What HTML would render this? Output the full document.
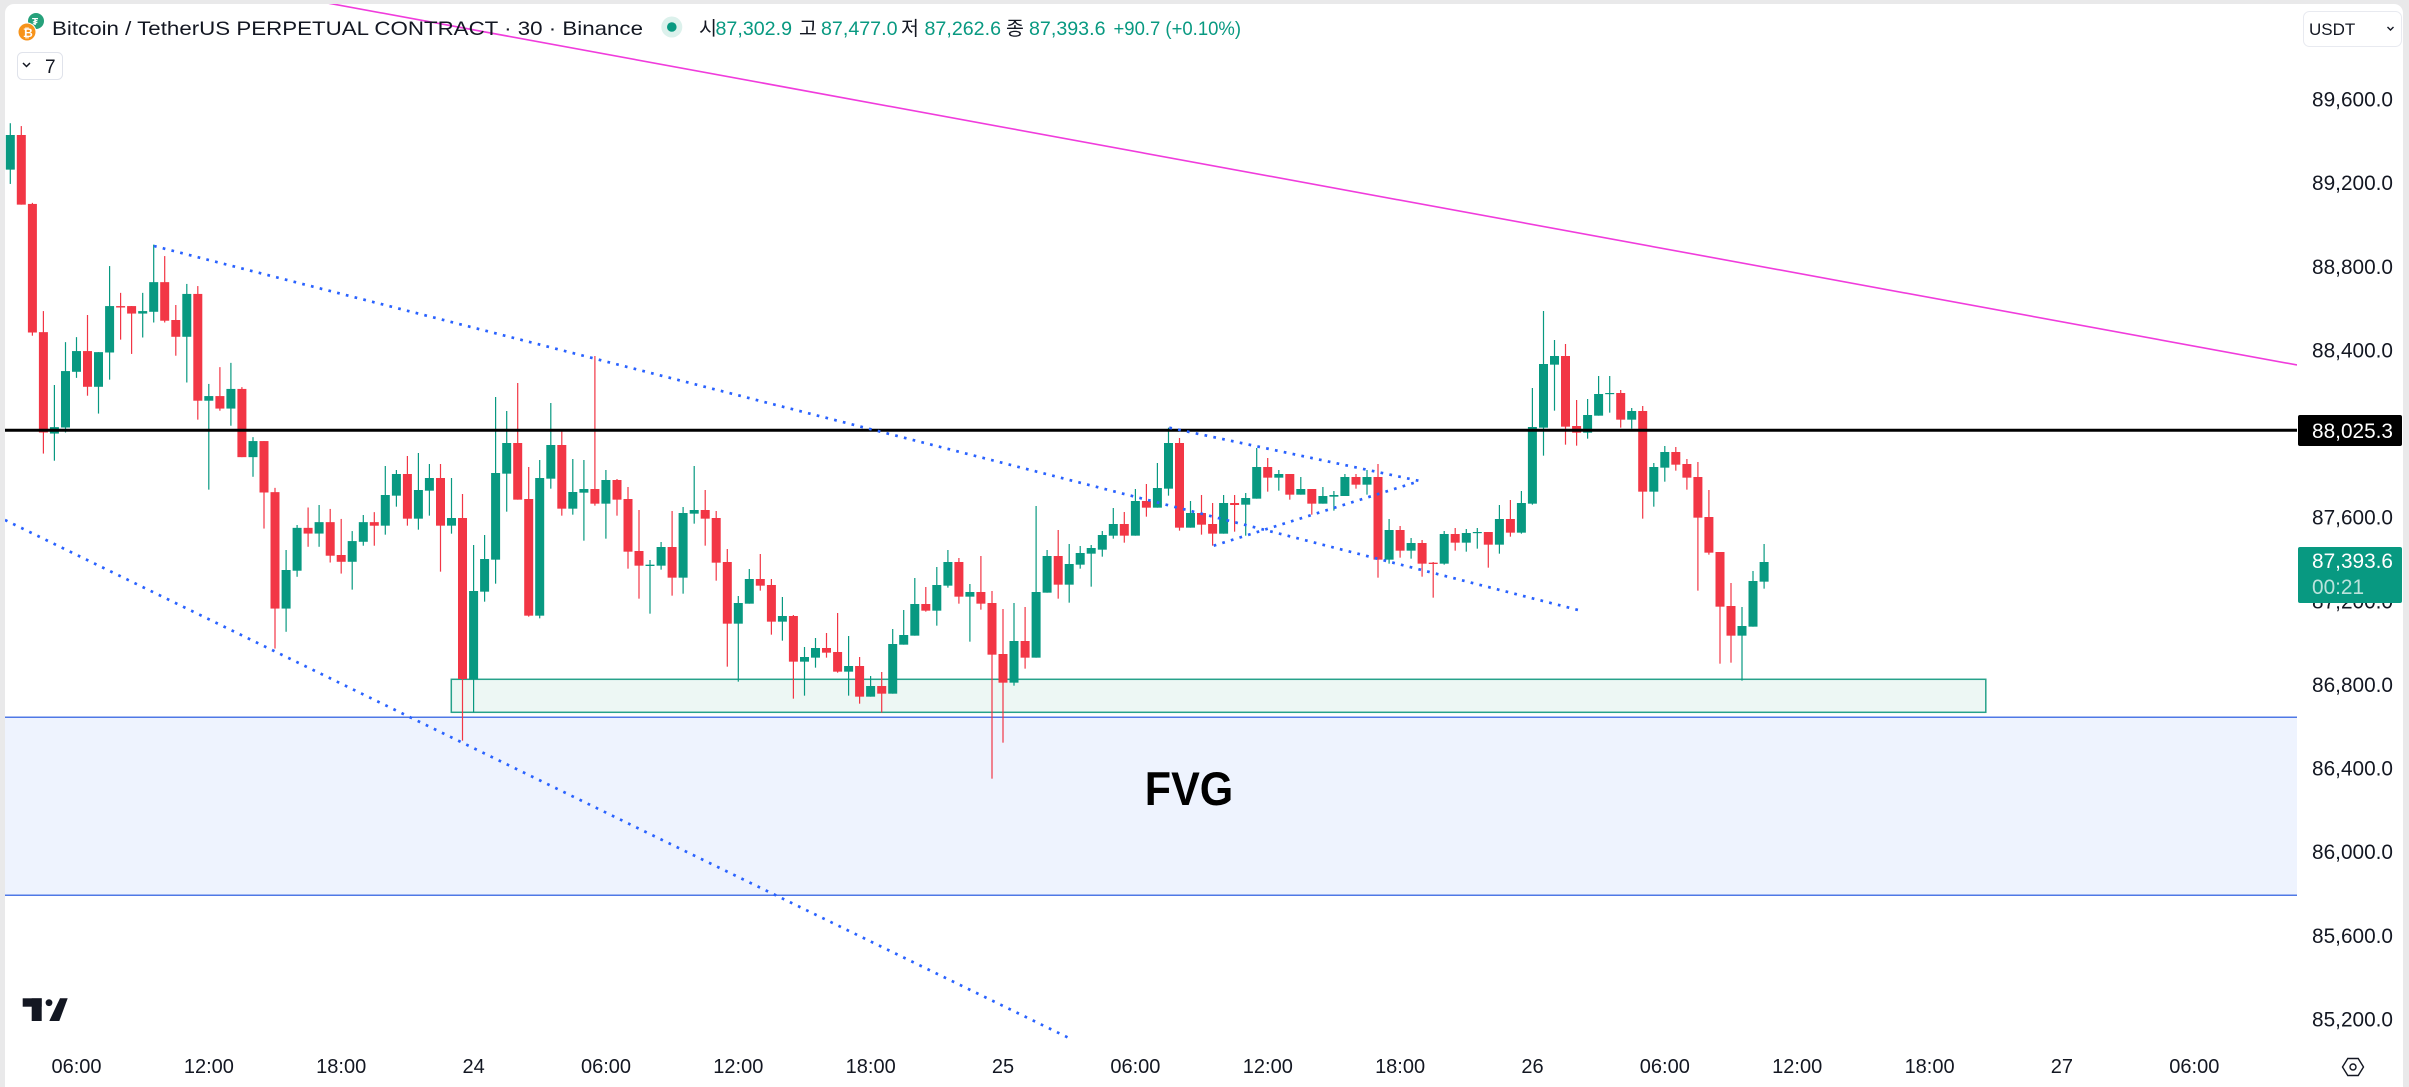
<!DOCTYPE html>
<html><head><meta charset="utf-8">
<style>
html,body{margin:0;padding:0;background:#e9e9ea;}
svg{display:block;}
text{font-family:"Liberation Sans","Noto Sans CJK KR",sans-serif;}
</style></head>
<body>
<svg width="2409" height="1087" viewBox="0 0 2409 1087" xmlns="http://www.w3.org/2000/svg">
<defs>
<clipPath id="pane"><rect x="5" y="4" width="2292" height="1041"/></clipPath>
</defs>
<rect x="0" y="0" width="2409" height="1087" fill="#e9e9ea"/>
<rect x="5" y="4" width="2398" height="1095" rx="9" fill="#ffffff"/>

<g clip-path="url(#pane)">
<!-- FVG zone -->
<rect x="5" y="717.3" width="2292" height="178" fill="#eef3fe"/>
<line x1="5" y1="717.3" x2="2297" y2="717.3" stroke="#4f78e6" stroke-width="1.5"/>
<line x1="5" y1="895.3" x2="2297" y2="895.3" stroke="#4f78e6" stroke-width="1.5"/>
<!-- green demand box -->
<rect x="451.3" y="679.3" width="1534.5" height="33" fill="#edf7f4" stroke="#26a28a" stroke-width="1.5"/>

<!-- candles zoom4 -->
<g transform="translate(0,110) scale(1,0.357143)">
<g fill="#089981">
<rect x="9.7" y="37" width="1.2" height="170"/><rect x="5.8" y="70" width="9" height="97"/>
<rect x="53.8" y="770" width="1.2" height="212"/><rect x="49.9" y="888" width="9" height="18"/>
<rect x="64.9" y="650" width="1.2" height="253"/><rect x="61.0" y="731" width="9" height="158"/>
<rect x="75.9" y="636" width="1.2" height="114"/><rect x="72.0" y="675" width="9" height="58"/>
<rect x="97.9" y="678" width="1.2" height="172"/><rect x="94.0" y="678" width="9" height="97"/>
<rect x="109.0" y="437" width="1.2" height="318"/><rect x="105.1" y="549" width="9" height="130"/>
<rect x="142.1" y="512" width="1.2" height="125"/><rect x="138.2" y="563" width="9" height="7"/>
<rect x="153.1" y="377" width="1.2" height="218"/><rect x="149.2" y="482" width="9" height="83"/>
<rect x="186.2" y="487" width="1.2" height="276"/><rect x="182.3" y="515" width="9" height="120"/>
<rect x="208.2" y="767" width="1.2" height="296"/><rect x="204.3" y="801" width="9" height="13"/>
<rect x="230.3" y="708" width="1.2" height="176"/><rect x="226.4" y="781" width="9" height="55"/>
<rect x="252.4" y="916" width="1.2" height="111"/><rect x="248.5" y="927" width="9" height="45"/>
<rect x="285.5" y="1232" width="1.2" height="229"/><rect x="281.6" y="1288" width="9" height="108"/>
<rect x="296.5" y="1162" width="1.2" height="145"/><rect x="292.6" y="1170" width="9" height="120"/>
<rect x="318.5" y="1106" width="1.2" height="117"/><rect x="314.6" y="1154" width="9" height="32"/>
<rect x="351.6" y="1179" width="1.2" height="164"/><rect x="347.7" y="1207" width="9" height="58"/>
<rect x="362.7" y="1134" width="1.2" height="86"/><rect x="358.8" y="1154" width="9" height="55"/>
</g>
<g fill="#f23645">
<rect x="20.7" y="45" width="1.2" height="220"/><rect x="16.8" y="70" width="9" height="195"/>
<rect x="31.8" y="260" width="1.2" height="372"/><rect x="27.9" y="263" width="9" height="360"/>
<rect x="42.8" y="563" width="1.2" height="399"/><rect x="38.9" y="622" width="9" height="281"/>
<rect x="86.9" y="574" width="1.2" height="226"/><rect x="83.0" y="675" width="9" height="100"/>
<rect x="120.0" y="512" width="1.2" height="131"/><rect x="116.1" y="549" width="9" height="4"/>
<rect x="131.0" y="549" width="1.2" height="134"/><rect x="127.1" y="549" width="9" height="21"/>
<rect x="164.1" y="409" width="1.2" height="186"/><rect x="160.2" y="482" width="9" height="108"/>
<rect x="175.2" y="546" width="1.2" height="142"/><rect x="171.3" y="588" width="9" height="47"/>
<rect x="197.2" y="493" width="1.2" height="374"/><rect x="193.3" y="515" width="9" height="299"/>
<rect x="219.3" y="720" width="1.2" height="122"/><rect x="215.4" y="801" width="9" height="35"/>
<rect x="241.3" y="776" width="1.2" height="196"/><rect x="237.4" y="781" width="9" height="191"/>
<rect x="263.4" y="927" width="1.2" height="245"/><rect x="259.5" y="927" width="9" height="144"/>
<rect x="274.4" y="1058" width="1.2" height="450"/><rect x="270.5" y="1070" width="9" height="326"/>
<rect x="307.5" y="1113" width="1.2" height="110"/><rect x="303.6" y="1170" width="9" height="16"/>
<rect x="329.6" y="1117" width="1.2" height="150"/><rect x="325.7" y="1154" width="9" height="94"/>
<rect x="340.6" y="1145" width="1.2" height="153"/><rect x="336.7" y="1246" width="9" height="19"/>
<rect x="373.7" y="1126" width="1.2" height="94"/><rect x="369.8" y="1154" width="9" height="10"/>
</g>
</g>

<!-- candles zoom5 -->
<g transform="translate(0,370) scale(1,0.333333)">
<g fill="#089981">
<rect x="384.7" y="288" width="1.2" height="206"/><rect x="380.8" y="375" width="9" height="92"/>
<rect x="395.8" y="300" width="1.2" height="110"/><rect x="391.9" y="312" width="9" height="65"/>
<rect x="417.8" y="249" width="1.2" height="230"/><rect x="413.9" y="360" width="9" height="86"/>
<rect x="428.8" y="282" width="1.2" height="155"/><rect x="424.9" y="324" width="9" height="38"/>
<rect x="450.9" y="324" width="1.2" height="167"/><rect x="447.0" y="444" width="9" height="23"/>
<rect x="473.0" y="525" width="1.2" height="502"/><rect x="469.1" y="663" width="9" height="264"/>
<rect x="484.0" y="495" width="1.2" height="200"/><rect x="480.1" y="567" width="9" height="98"/>
<rect x="495.0" y="81" width="1.2" height="560"/><rect x="491.1" y="309" width="9" height="260"/>
<rect x="506.1" y="123" width="1.2" height="302"/><rect x="502.2" y="219" width="9" height="92"/>
<rect x="539.1" y="270" width="1.2" height="475"/><rect x="535.2" y="324" width="9" height="413"/>
<rect x="550.2" y="99" width="1.2" height="257"/><rect x="546.3" y="225" width="9" height="101"/>
<rect x="572.2" y="267" width="1.2" height="167"/><rect x="568.3" y="366" width="9" height="50"/>
<rect x="583.3" y="270" width="1.2" height="242"/><rect x="579.4" y="357" width="9" height="11"/>
<rect x="605.3" y="300" width="1.2" height="206"/><rect x="601.4" y="330" width="9" height="71"/>
<rect x="649.4" y="570" width="1.2" height="161"/><rect x="645.5" y="584" width="9" height="4"/>
<rect x="660.5" y="516" width="1.2" height="83"/><rect x="656.6" y="531" width="9" height="56"/>
<rect x="682.5" y="411" width="1.2" height="260"/><rect x="678.6" y="429" width="9" height="194"/>
<rect x="693.6" y="288" width="1.2" height="173"/><rect x="689.7" y="420" width="9" height="11"/>
<rect x="737.7" y="678" width="1.2" height="257"/><rect x="733.8" y="699" width="9" height="62"/>
</g>
<g fill="#f23645">
<rect x="406.8" y="258" width="1.2" height="209"/><rect x="402.9" y="312" width="9" height="134"/>
<rect x="439.9" y="282" width="1.2" height="323"/><rect x="436.0" y="324" width="9" height="143"/>
<rect x="461.9" y="372" width="1.2" height="740"/><rect x="458.0" y="444" width="9" height="483"/>
<rect x="517.1" y="39" width="1.2" height="350"/><rect x="513.2" y="219" width="9" height="170"/>
<rect x="528.1" y="291" width="1.2" height="449"/><rect x="524.2" y="387" width="9" height="350"/>
<rect x="561.2" y="183" width="1.2" height="254"/><rect x="557.3" y="225" width="9" height="191"/>
<rect x="594.3" y="-42" width="1.2" height="449"/><rect x="590.4" y="357" width="9" height="44"/>
<rect x="616.4" y="327" width="1.2" height="110"/><rect x="612.5" y="330" width="9" height="59"/>
<rect x="627.4" y="351" width="1.2" height="245"/><rect x="623.5" y="387" width="9" height="158"/>
<rect x="638.4" y="420" width="1.2" height="266"/><rect x="634.5" y="543" width="9" height="44"/>
<rect x="671.5" y="423" width="1.2" height="254"/><rect x="667.6" y="531" width="9" height="92"/>
<rect x="704.6" y="360" width="1.2" height="167"/><rect x="700.7" y="420" width="9" height="26"/>
<rect x="715.6" y="423" width="1.2" height="209"/><rect x="711.7" y="444" width="9" height="134"/>
<rect x="726.7" y="537" width="1.2" height="353"/><rect x="722.8" y="576" width="9" height="185"/>
</g>
</g>

<!-- candles zoom6 -->
<g transform="translate(0,330) scale(1,0.333333)">
<g fill="#089981">
<rect x="748.7" y="717" width="1.2" height="104"/><rect x="744.8" y="747" width="9" height="74"/>
<rect x="781.8" y="801" width="1.2" height="131"/><rect x="777.9" y="858" width="9" height="17"/>
<rect x="803.9" y="951" width="1.2" height="146"/><rect x="800.0" y="981" width="9" height="14"/>
<rect x="814.9" y="924" width="1.2" height="89"/><rect x="811.0" y="954" width="9" height="29"/>
<rect x="848.0" y="918" width="1.2" height="179"/><rect x="844.1" y="1008" width="9" height="17"/>
<rect x="870.0" y="1038" width="1.2" height="62"/><rect x="866.1" y="1068" width="9" height="32"/>
<rect x="892.1" y="897" width="1.2" height="194"/><rect x="888.2" y="942" width="9" height="149"/>
<rect x="903.1" y="840" width="1.2" height="104"/><rect x="899.2" y="915" width="9" height="29"/>
<rect x="914.2" y="744" width="1.2" height="173"/><rect x="910.3" y="822" width="9" height="95"/>
<rect x="936.2" y="711" width="1.2" height="176"/><rect x="932.3" y="765" width="9" height="77"/>
<rect x="947.3" y="660" width="1.2" height="113"/><rect x="943.4" y="696" width="9" height="71"/>
<rect x="969.3" y="762" width="1.2" height="173"/><rect x="965.4" y="786" width="9" height="14"/>
<rect x="1013.4" y="819" width="1.2" height="248"/><rect x="1009.5" y="933" width="9" height="125"/>
<rect x="1035.5" y="528" width="1.2" height="455"/><rect x="1031.6" y="786" width="9" height="197"/>
<rect x="1046.5" y="660" width="1.2" height="128"/><rect x="1042.6" y="678" width="9" height="110"/>
<rect x="1068.6" y="642" width="1.2" height="176"/><rect x="1064.7" y="702" width="9" height="62"/>
<rect x="1079.6" y="648" width="1.2" height="68"/><rect x="1075.7" y="669" width="9" height="35"/>
<rect x="1090.6" y="645" width="1.2" height="125"/><rect x="1086.7" y="654" width="9" height="17"/>
<rect x="1101.7" y="603" width="1.2" height="77"/><rect x="1097.8" y="615" width="9" height="44"/>
<rect x="1112.7" y="534" width="1.2" height="92"/><rect x="1108.8" y="582" width="9" height="35"/>
</g>
<g fill="#f23645">
<rect x="759.7" y="672" width="1.2" height="110"/><rect x="755.8" y="747" width="9" height="20"/>
<rect x="770.8" y="747" width="1.2" height="167"/><rect x="766.9" y="765" width="9" height="110"/>
<rect x="792.8" y="855" width="1.2" height="251"/><rect x="788.9" y="858" width="9" height="137"/>
<rect x="825.9" y="909" width="1.2" height="74"/><rect x="822.0" y="954" width="9" height="14"/>
<rect x="837.0" y="849" width="1.2" height="179"/><rect x="833.1" y="966" width="9" height="59"/>
<rect x="859.0" y="981" width="1.2" height="140"/><rect x="855.1" y="1008" width="9" height="92"/>
<rect x="881.1" y="1026" width="1.2" height="122"/><rect x="877.2" y="1068" width="9" height="23"/>
<rect x="925.2" y="771" width="1.2" height="74"/><rect x="921.3" y="822" width="9" height="20"/>
<rect x="958.3" y="684" width="1.2" height="137"/><rect x="954.4" y="696" width="9" height="104"/>
<rect x="980.3" y="678" width="1.2" height="161"/><rect x="976.4" y="786" width="9" height="35"/>
<rect x="991.4" y="783" width="1.2" height="563"/><rect x="987.5" y="819" width="9" height="155"/>
<rect x="1002.4" y="837" width="1.2" height="401"/><rect x="998.5" y="972" width="9" height="86"/>
<rect x="1024.5" y="831" width="1.2" height="185"/><rect x="1020.6" y="933" width="9" height="50"/>
<rect x="1057.6" y="600" width="1.2" height="206"/><rect x="1053.7" y="678" width="9" height="86"/>
</g>
</g>

<!-- candles zoom7 -->
<g transform="translate(0,390) scale(1,0.333333)">
<g fill="#089981">
<rect x="1134.8" y="297" width="1.2" height="140"/><rect x="1130.9" y="333" width="9" height="104"/>
<rect x="1156.8" y="219" width="1.2" height="134"/><rect x="1152.9" y="294" width="9" height="59"/>
<rect x="1167.9" y="113" width="1.2" height="204"/><rect x="1164.0" y="159" width="9" height="137"/>
<rect x="1189.9" y="333" width="1.2" height="80"/><rect x="1186.0" y="369" width="9" height="44"/>
<rect x="1223.0" y="315" width="1.2" height="116"/><rect x="1219.1" y="339" width="9" height="92"/>
<rect x="1245.1" y="309" width="1.2" height="128"/><rect x="1241.2" y="324" width="9" height="20"/>
<rect x="1256.1" y="174" width="1.2" height="152"/><rect x="1252.2" y="231" width="9" height="95"/>
<rect x="1278.2" y="240" width="1.2" height="62"/><rect x="1274.3" y="252" width="9" height="11"/>
<rect x="1300.2" y="261" width="1.2" height="53"/><rect x="1296.3" y="297" width="9" height="17"/>
<rect x="1322.3" y="291" width="1.2" height="50"/><rect x="1318.4" y="318" width="9" height="23"/>
<rect x="1333.3" y="303" width="1.2" height="59"/><rect x="1329.4" y="315" width="9" height="5"/>
<rect x="1344.3" y="252" width="1.2" height="66"/><rect x="1340.4" y="261" width="9" height="57"/>
<rect x="1366.4" y="240" width="1.2" height="74"/><rect x="1362.5" y="261" width="9" height="23"/>
<rect x="1388.5" y="387" width="1.2" height="134"/><rect x="1384.6" y="420" width="9" height="89"/>
<rect x="1410.5" y="444" width="1.2" height="62"/><rect x="1406.6" y="459" width="9" height="23"/>
<rect x="1443.6" y="423" width="1.2" height="101"/><rect x="1439.7" y="432" width="9" height="89"/>
<rect x="1465.7" y="417" width="1.2" height="68"/><rect x="1461.8" y="429" width="9" height="29"/>
<rect x="1476.7" y="414" width="1.2" height="62"/><rect x="1472.8" y="426" width="9" height="3.5"/>
</g>
<g fill="#f23645">
<rect x="1123.7" y="366" width="1.2" height="92"/><rect x="1119.8" y="402" width="9" height="35"/>
<rect x="1145.8" y="282" width="1.2" height="98"/><rect x="1141.9" y="333" width="9" height="20"/>
<rect x="1178.9" y="144" width="1.2" height="278"/><rect x="1175.0" y="159" width="9" height="254"/>
<rect x="1200.9" y="315" width="1.2" height="119"/><rect x="1197.0" y="369" width="9" height="35"/>
<rect x="1212.0" y="339" width="1.2" height="128"/><rect x="1208.1" y="402" width="9" height="29"/>
<rect x="1234.0" y="315" width="1.2" height="110"/><rect x="1230.1" y="339" width="9" height="6"/>
<rect x="1267.1" y="204" width="1.2" height="101"/><rect x="1263.2" y="231" width="9" height="32"/>
<rect x="1289.2" y="252" width="1.2" height="77"/><rect x="1285.3" y="252" width="9" height="62"/>
<rect x="1311.2" y="297" width="1.2" height="77"/><rect x="1307.3" y="297" width="9" height="44"/>
<rect x="1355.4" y="252" width="1.2" height="44"/><rect x="1351.5" y="261" width="9" height="23"/>
<rect x="1377.4" y="222" width="1.2" height="341"/><rect x="1373.5" y="261" width="9" height="248"/>
<rect x="1399.5" y="408" width="1.2" height="95"/><rect x="1395.6" y="420" width="9" height="62"/>
<rect x="1421.5" y="450" width="1.2" height="110"/><rect x="1417.6" y="459" width="9" height="62"/>
<rect x="1432.6" y="516" width="1.2" height="107"/><rect x="1428.7" y="518" width="9" height="4"/>
<rect x="1454.6" y="414" width="1.2" height="68"/><rect x="1450.7" y="432" width="9" height="26"/>
</g>
</g>

<!-- candles zoom8 -->
<g transform="translate(0,290) scale(1,0.333333)">
<g fill="#089981">
<rect x="1498.8" y="645" width="1.2" height="146"/><rect x="1494.9" y="687" width="9" height="77"/>
<rect x="1520.8" y="603" width="1.2" height="128"/><rect x="1516.9" y="639" width="9" height="89"/>
<rect x="1531.8" y="294" width="1.2" height="350"/><rect x="1527.9" y="411" width="9" height="230"/>
<rect x="1542.9" y="63" width="1.2" height="434"/><rect x="1539.0" y="222" width="9" height="191"/>
<rect x="1553.9" y="150" width="1.2" height="212"/><rect x="1550.0" y="198" width="9" height="26"/>
<rect x="1587.0" y="327" width="1.2" height="119"/><rect x="1583.1" y="375" width="9" height="53"/>
<rect x="1598.0" y="258" width="1.2" height="119"/><rect x="1594.1" y="312" width="9" height="65"/>
<rect x="1609.1" y="258" width="1.2" height="110"/><rect x="1605.2" y="309" width="9" height="3.5"/>
<rect x="1631.1" y="354" width="1.2" height="62"/><rect x="1627.2" y="363" width="9" height="26"/>
<rect x="1653.2" y="519" width="1.2" height="131"/><rect x="1649.3" y="531" width="9" height="74"/>
<rect x="1664.2" y="468" width="1.2" height="107"/><rect x="1660.3" y="486" width="9" height="47"/>
<rect x="1741.4" y="951" width="1.2" height="221"/><rect x="1737.5" y="1008" width="9" height="29"/>
<rect x="1752.4" y="843" width="1.2" height="167"/><rect x="1748.5" y="873" width="9" height="137"/>
<rect x="1763.5" y="762" width="1.2" height="134"/><rect x="1759.6" y="816" width="9" height="59"/>
</g>
<g fill="#f23645">
<rect x="1487.7" y="726" width="1.2" height="107"/><rect x="1483.8" y="726" width="9" height="38"/>
<rect x="1509.8" y="630" width="1.2" height="110"/><rect x="1505.9" y="687" width="9" height="41"/>
<rect x="1564.9" y="162" width="1.2" height="302"/><rect x="1561.0" y="198" width="9" height="212"/>
<rect x="1576.0" y="330" width="1.2" height="137"/><rect x="1572.1" y="408" width="9" height="20"/>
<rect x="1620.1" y="300" width="1.2" height="113"/><rect x="1616.2" y="309" width="9" height="80"/>
<rect x="1642.1" y="348" width="1.2" height="338"/><rect x="1638.2" y="363" width="9" height="242"/>
<rect x="1675.2" y="471" width="1.2" height="71"/><rect x="1671.3" y="486" width="9" height="38"/>
<rect x="1686.3" y="507" width="1.2" height="92"/><rect x="1682.4" y="522" width="9" height="41"/>
<rect x="1697.3" y="516" width="1.2" height="386"/><rect x="1693.4" y="561" width="9" height="122"/>
<rect x="1708.3" y="600" width="1.2" height="194"/><rect x="1704.4" y="681" width="9" height="107"/>
<rect x="1719.4" y="786" width="1.2" height="335"/><rect x="1715.5" y="786" width="9" height="164"/>
<rect x="1730.4" y="879" width="1.2" height="239"/><rect x="1726.5" y="948" width="9" height="89"/>
</g>
</g>

<!-- black horizontal line -->
<line x1="5" y1="430.3" x2="2297" y2="430.3" stroke="#000000" stroke-width="3"/>
<!-- magenta trend line -->
<line x1="310" y1="-0.2" x2="2297" y2="365" stroke="#f03cdc" stroke-width="1.6"/>
<!-- dotted lines -->
<g stroke="#2962ff" stroke-width="2.7" stroke-dasharray="2.7 6.3" fill="none">
<line x1="154" y1="246" x2="1584" y2="611.5"/>
<line x1="5" y1="520" x2="1071" y2="1039"/>
<line x1="1169.3" y1="427.7" x2="1419.7" y2="481"/>
<line x1="1213.7" y1="545.7" x2="1419.7" y2="481"/>
</g>
<!-- FVG label -->
<text x="1144.8" y="805" font-size="47" font-weight="bold" fill="#000" textLength="88.4" lengthAdjust="spacingAndGlyphs">FVG</text>
</g>

<!-- header -->
<circle cx="36" cy="21" r="8" fill="#26a17b"/>
<text x="32" y="25" font-size="10" font-weight="bold" fill="#fff">₮</text>
<circle cx="27" cy="32" r="9.5" fill="#ffffff"/>
<circle cx="27" cy="32" r="8.5" fill="#f7931a"/>
<text x="23" y="37" font-size="12" font-weight="bold" fill="#fff">₿</text>
<text x="52" y="35" font-size="19.5" fill="#131722" textLength="591" lengthAdjust="spacingAndGlyphs">Bitcoin / TetherUS PERPETUAL CONTRACT · 30 · Binance</text>
<circle cx="671.8" cy="27" r="10.5" fill="#dcf1ec"/>
<circle cx="671.8" cy="27" r="4.8" fill="#089981"/>
<g font-size="19.5">
<text x="699" y="35" fill="#131722">시</text>
<text x="715.5" y="35" fill="#089981" textLength="76.5" lengthAdjust="spacingAndGlyphs">87,302.9</text>
<text x="799" y="35" fill="#131722">고</text>
<text x="821" y="35" fill="#089981" textLength="76.5" lengthAdjust="spacingAndGlyphs">87,477.0</text>
<text x="901" y="35" fill="#131722">저</text>
<text x="924.5" y="35" fill="#089981" textLength="76.5" lengthAdjust="spacingAndGlyphs">87,262.6</text>
<text x="1006" y="35" fill="#131722">종</text>
<text x="1029" y="35" fill="#089981" textLength="76.5" lengthAdjust="spacingAndGlyphs">87,393.6</text>
<text x="1113.5" y="35" fill="#089981" textLength="127.5" lengthAdjust="spacingAndGlyphs">+90.7 (+0.10%)</text>
</g>
<rect x="17.5" y="52.5" width="45" height="27" rx="5" fill="#fff" stroke="#e0e3eb" stroke-width="1"/>
<path d="M23 63 l3.5 3.5 l3.5 -3.5" stroke="#131722" stroke-width="1.5" fill="none"/>
<text x="45" y="73" font-size="19" fill="#131722">7</text>

<!-- USDT dropdown -->
<rect x="2303.5" y="11.5" width="98" height="35" rx="6" fill="#fff" stroke="#e8eaf0" stroke-width="1"/>
<text x="2309" y="35" font-size="17" fill="#131722">USDT</text>
<path d="M2387.5 27 l3 3 l3 -3" stroke="#131722" stroke-width="1.4" fill="none"/>

<!-- price axis labels -->
<g font-size="20.8" fill="#131722" text-anchor="end">
<text x="2393" y="106.5">89,600.0</text>
<text x="2393" y="190">89,200.0</text>
<text x="2393" y="273.8">88,800.0</text>
<text x="2393" y="357.4">88,400.0</text>
<text x="2393" y="524.6">87,600.0</text>
<text x="2393" y="608.3">87,200.0</text>
<text x="2393" y="691.9">86,800.0</text>
<text x="2393" y="775.5">86,400.0</text>
<text x="2393" y="859.1">86,000.0</text>
<text x="2393" y="942.8">85,600.0</text>
<text x="2393" y="1026.5">85,200.0</text>
</g>
<rect x="2298" y="415" width="104" height="31" rx="2" fill="#000"/>
<text x="2393" y="438" font-size="20.8" fill="#fff" text-anchor="end">88,025.3</text>
<rect x="2298" y="547" width="104" height="56" rx="2" fill="#089981"/>
<text x="2393" y="568.2" font-size="20.8" fill="#fff" text-anchor="end">87,393.6</text>
<text x="2312" y="594" font-size="20.8" fill="#ffffff" fill-opacity="0.72">00:21</text>

<!-- time axis -->
<g font-size="20" fill="#131722" text-anchor="middle">
<text x="76.5" y="1073">06:00</text>
<text x="208.9" y="1073">12:00</text>
<text x="341.2" y="1073">18:00</text>
<text x="473.6" y="1073">24</text>
<text x="606" y="1073">06:00</text>
<text x="738.3" y="1073">12:00</text>
<text x="870.7" y="1073">18:00</text>
<text x="1003" y="1073">25</text>
<text x="1135.4" y="1073">06:00</text>
<text x="1267.8" y="1073">12:00</text>
<text x="1400.1" y="1073">18:00</text>
<text x="1532.5" y="1073">26</text>
<text x="1664.8" y="1073">06:00</text>
<text x="1797.2" y="1073">12:00</text>
<text x="1929.6" y="1073">18:00</text>
<text x="2061.9" y="1073">27</text>
<text x="2194.3" y="1073">06:00</text>
</g>

<!-- settings hexagon -->
<path d="M2342.5 1067 L2347.8 1058.5 L2358.2 1058.5 L2363.5 1067 L2358.2 1075.5 L2347.8 1075.5 Z" fill="none" stroke="#131722" stroke-width="1.4"/>
<circle cx="2353" cy="1067" r="3" fill="none" stroke="#131722" stroke-width="1.4"/>

<!-- TV logo -->
<g fill="#131722">
<rect x="22.7" y="998.3" width="19" height="8.4"/>
<rect x="31.7" y="998.3" width="10" height="22.7"/>
<circle cx="49" cy="1002.7" r="3.4"/>
<path d="M60 998.3 L67.7 998.3 L59.3 1021 L49.3 1021 Z"/>
</g>
</svg>
</body></html>
